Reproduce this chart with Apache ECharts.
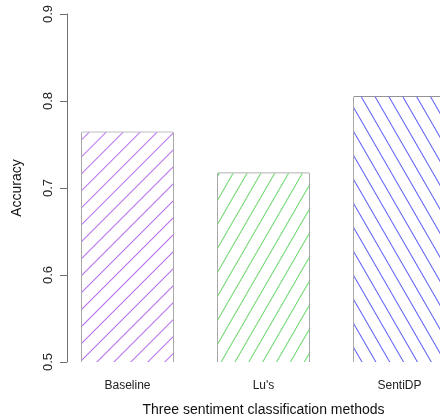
<!DOCTYPE html>
<html>
<head>
<meta charset="utf-8">
<script src="https://cdn.jsdelivr.net/npm/echarts@6/dist/echarts.min.js"></script>
<style>
  html, body { margin: 0; padding: 0; background: #ffffff; overflow: hidden; }
  /* the plot area runs past the right edge of the frame, so the last bar is cut off */
  #frame { position: relative; width: 440px; height: 420px; overflow: hidden; }
  #chart { position: absolute; left: 0; top: 0; width: 470px; height: 420px; }
</style>
</head>
<body>
<div id="frame"><div id="chart"></div></div>
<script>
// Accuracy of the three sentiment classification methods
const methods = ['Baseline', "Lu's", 'SentiDP'];
const accuracy = [0.764, 0.717, 0.805];
const hatchColors = ['#b873f0', '#6ad66a', '#5c5cf8'];
// hatch line angle for each bar, in degrees counter-clockwise from horizontal
const hatchAngles = [45, 60, 120];
const yTicks = [0.5, 0.6, 0.7, 0.8, 0.9];

const BAR_RATIO = 0.67;

const chart = echarts.init(document.getElementById('chart'), null, { renderer: 'canvas' });

function hatch(color, deg) {
  return {
    symbol: 'rect',
    symbolSize: 1,
    color: color,
    backgroundColor: null,
    dashArrayX: [1, 0],
    dashArrayY: [1, 11],
    rotation: -deg * Math.PI / 180
  };
}

const barData = accuracy.map((v, i) => ({
  value: v,
  itemStyle: {
    color: '#ffffff',
    borderWidth: 0,
    decal: hatch(hatchColors[i], hatchAngles[i])
  }
}));

// bar outline: left side, top and right side, open at the bottom
function renderOutline(params, api) {
  const idx = api.value(0);
  const top = api.coord([idx, api.value(1)]);
  const bottom = api.coord([idx, yTicks[0]]);
  const half = api.size([1, 0])[0] * BAR_RATIO / 2;
  return {
    type: 'polyline',
    shape: {
      points: [
        [top[0] - half, bottom[1] + 2],
        [top[0] - half, top[1]],
        [top[0] + half, top[1]],
        [top[0] + half, bottom[1] + 2]
      ]
    },
    style: { stroke: '#5a5a5a', lineWidth: 1, fill: null }
  };
}

chart.setOption({
  animation: false,
  backgroundColor: '#ffffff',
  textStyle: { fontFamily: 'Liberation Sans, Arial, sans-serif' },
  grid: {
    left: 59.5, top: 14, width: 408, height: 348,
    containLabel: false, outerBoundsMode: 'none'
  },
  xAxis: {
    type: 'category',
    data: methods,
    axisLine: { show: false },
    axisTick: { show: false },
    axisLabel: { color: '#222', fontSize: 12, margin: 18 },
    name: 'Three sentiment classification methods',
    nameLocation: 'middle',
    nameGap: 41,
    nameTextStyle: { color: '#111', fontSize: 14 }
  },
  yAxis: {
    type: 'value',
    min: yTicks[0],
    max: yTicks[yTicks.length - 1],
    interval: 0.1,
    offset: -7.5,
    splitLine: { show: false },
    axisLine: { show: true, lineStyle: { color: '#707070', width: 1 } },
    axisTick: { show: true, length: 7, lineStyle: { color: '#707070', width: 1 } },
    axisLabel: {
      color: '#222', fontSize: 13, rotate: 90, margin: 12,
      formatter: v => v.toFixed(1)
    },
    name: 'Accuracy',
    nameLocation: 'middle',
    nameGap: 43,
    nameRotate: 90,
    nameTextStyle: { color: '#111', fontSize: 14 }
  },
  series: [{
    type: 'bar',
    data: barData,
    barWidth: (BAR_RATIO * 100) + '%',
    clip: true
  }, {
    type: 'custom',
    data: accuracy.map((v, i) => [i, v]),
    encode: { x: 0, y: 1 },
    renderItem: renderOutline,
    clip: true,
    silent: true
  }]
});
</script>
</body>
</html>
